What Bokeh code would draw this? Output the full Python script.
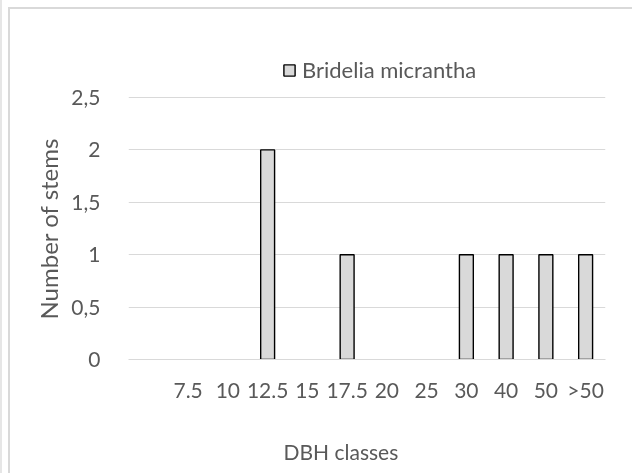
from bokeh.plotting import figure
from bokeh.models import (ColumnDataSource, Range1d, FixedTicker, Legend, LegendItem,
                          Title, CustomJSTickFormatter)
from bokeh.embed import file_html
from bokeh.resources import INLINE

# DBH classes (first slot carries no label) and stem counts per class
categories = ["", "7.5", "10", "12.5", "15", "17.5", "20", "25", "30", "40", "50", ">50"]
stems = [0, 0, 0, 2, 0, 1, 0, 0, 1, 1, 1, 1]
species = "Bridelia micrantha"
y_ticks = [0, 0.5, 1, 1.5, 2, 2.5]

FONT = "Lato"
TEXT = "#595959"
GRID = "#d9d9d9"

# frame geometry: the gridded part (0..2.5) is 262 px tall, the frame
# continues above it so the legend can sit inside the plot area
W, H = 624, 500
FRAME_TOP, FRAME_BOTTOM = 20, 350
GRID_PX = 262
y_top = max(y_ticks) * (FRAME_BOTTOM - FRAME_TOP) / GRID_PX

pos = [i + 0.5 for i in range(len(categories))]
bars = [(x, v) for x, v in zip(pos, stems) if v > 0]
src = ColumnDataSource(dict(x=[b[0] for b in bars], top=[b[1] for b in bars]))

p = figure(width=W, height=H,
           x_range=Range1d(0, len(categories)), y_range=Range1d(0, y_top),
           output_backend="svg", toolbar_location=None,
           min_border_left=118, min_border_right=29,
           min_border_top=FRAME_TOP, min_border_bottom=H - FRAME_BOTTOM)
# chart area frame; the lower part runs past the page edge like a cropped sheet
p.styles = {"position": "fixed", "left": "8px", "top": "7px",
            "border-left": f"2px solid {GRID}", "border-top": f"2px solid {GRID}",
            "box-shadow": "-6px -7px 0 0 white, -8px -7px 0 0 #e6e6e6"}
p.outline_line_color = None
p.background_fill_color = "white"
p.border_fill_color = "white"

r = p.vbar(x="x", top="top", width=0.35, bottom=0, source=src,
           fill_color="#d9d9d9", line_color="black", line_width=1.4)

# grid
p.xgrid.grid_line_color = None
p.ygrid.grid_line_color = GRID
p.ygrid.grid_line_width = 1
p.ygrid.ticker = FixedTicker(ticks=y_ticks)

# x axis
xa = p.xaxis[0]
xa.ticker = FixedTicker(ticks=pos)
xa.formatter = CustomJSTickFormatter(args=dict(labels=categories),
                                     code="return labels[Math.floor(tick)];")
xa.axis_line_color = GRID
xa.major_tick_line_color = None
xa.minor_tick_line_color = None
xa.major_label_standoff = 11
xa.major_label_text_font = FONT
xa.major_label_text_font_size = "21px"
xa.major_label_text_color = TEXT

# y axis
ya = p.yaxis[0]
ya.ticker = FixedTicker(ticks=y_ticks)
ya.formatter = CustomJSTickFormatter(code="return tick.toString().replace('.', ',');")
ya.axis_line_color = None
ya.major_tick_line_color = None
ya.minor_tick_line_color = None
ya.major_label_standoff = 22
ya.major_label_text_font = FONT
ya.major_label_text_font_size = "21px"
ya.major_label_text_color = TEXT

# axis titles
p.add_layout(Title(text="Number of stems", align="left", offset=40, standoff=12,
                   text_font=FONT, text_font_size="24px", text_font_style="normal",
                   text_color=TEXT), "left")
p.add_layout(Title(text="DBH classes", align="left", offset=155, standoff=64,
                   text_font=FONT, text_font_size="21px", text_font_style="normal",
                   text_color=TEXT), "below")

legend = Legend(items=[LegendItem(label=species, renderers=[r])],
                location=(154, 276), orientation="horizontal",
                glyph_width=14, glyph_height=14, label_standoff=6,
                padding=0, margin=0, spacing=0,
                border_line_color=None, background_fill_alpha=0,
                label_text_font=FONT, label_text_font_size="22px",
                label_text_color=TEXT)
p.add_layout(legend, "center")

open("out.html", "w").write(file_html(p, INLINE))
